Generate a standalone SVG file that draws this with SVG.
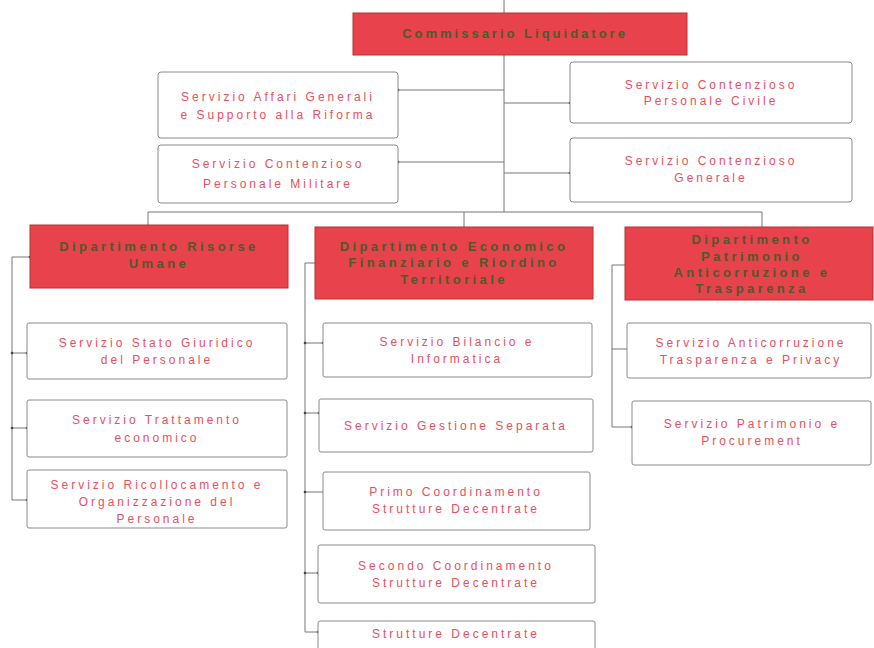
<svg xmlns="http://www.w3.org/2000/svg" width="874" height="648" viewBox="0 0 874 648">
<style>
.red{fill:#e8424c;stroke:#b8302e;stroke-width:1}
.box{fill:#ffffff;stroke:#8a8a8a;stroke-width:1}
.svc{font-family:"Liberation Sans",Arial,sans-serif;font-size:12px;fill:#e8505e;letter-spacing:3px;text-anchor:middle}
.dep{font-family:"Liberation Sans",Arial,sans-serif;font-size:13px;font-weight:bold;fill:#4d5a2c;letter-spacing:3.4px;text-anchor:middle}
.ln{fill:none;stroke:#777;stroke-width:1}
</style>
<defs>
<marker id="dot" viewBox="0 0 4 4" refX="2" refY="2" markerWidth="4" markerHeight="4" markerUnits="userSpaceOnUse"><circle cx="2" cy="2" r="1.3" fill="#444"/></marker>
</defs>
<rect width="874" height="648" fill="#ffffff"/>
<g id="connectors">
<path class="ln" d="M504 0 V212"/>
<path class="ln" d="M398 90 H504" marker-start="url(#dot)"/>
<path class="ln" d="M398 162 H504" marker-start="url(#dot)"/>
<path class="ln" d="M570 103 H504" marker-start="url(#dot)"/>
<path class="ln" d="M570 173 H504" marker-start="url(#dot)"/>
<path class="ln" d="M148 212 H762"/>
<path class="ln" d="M148 212 V225"/>
<path class="ln" d="M464 212 V227"/>
<path class="ln" d="M762 212 V227"/>
<path class="ln" d="M30 257 H12 V500 H27" marker-start="url(#dot)" marker-end="url(#dot)"/>
<path class="ln" d="M12 353 H27" marker-start="url(#dot)" marker-end="url(#dot)"/>
<path class="ln" d="M12 428 H27" marker-start="url(#dot)" marker-end="url(#dot)"/>
<path class="ln" d="M315 263 H305 V632 H318" marker-end="url(#dot)"/>
<path class="ln" d="M305 343 H323" marker-start="url(#dot)" marker-end="url(#dot)"/>
<path class="ln" d="M305 413 H319" marker-start="url(#dot)" marker-end="url(#dot)"/>
<path class="ln" d="M305 492 H323" marker-start="url(#dot)"/>
<path class="ln" d="M305 573 H318" marker-start="url(#dot)" marker-end="url(#dot)"/>
<path class="ln" d="M625 265 H612 V427 H632" marker-end="url(#dot)"/>
<path class="ln" d="M612 349 H627"/>
</g>
<g id="commissario">
<rect class="red" x="353" y="13" width="334" height="42"/>
<text class="dep" x="515" y="38" style="letter-spacing:3px">Commissario Liquidatore</text>
</g>
<g id="affari-generali">
<rect class="box" x="158" y="72" width="240" height="66" rx="3"/>
<text class="svc" x="278" y="101">Servizio Affari Generali</text>
<text class="svc" x="278" y="119">e Supporto alla Riforma</text>
</g>
<g id="contenzioso-militare">
<rect class="box" x="158" y="145" width="240" height="58" rx="3"/>
<text class="svc" x="278" y="168">Servizio Contenzioso</text>
<text class="svc" x="278" y="188">Personale Militare</text>
</g>
<g id="contenzioso-civile">
<rect class="box" x="570" y="62" width="282" height="61" rx="3"/>
<text class="svc" x="711" y="89">Servizio Contenzioso</text>
<text class="svc" x="711" y="105">Personale Civile</text>
</g>
<g id="contenzioso-generale">
<rect class="box" x="570" y="138" width="282" height="64" rx="3"/>
<text class="svc" x="711" y="165">Servizio Contenzioso</text>
<text class="svc" x="711" y="182">Generale</text>
</g>
<g id="dip-risorse-umane">
<rect class="red" x="30" y="225" width="258" height="63"/>
<text class="dep" x="159" y="251">Dipartimento Risorse</text>
<text class="dep" x="159" y="268">Umane</text>
</g>
<g id="dip-economico">
<rect class="red" x="315" y="227" width="278" height="72"/>
<text class="dep" x="454" y="251">Dipartimento Economico</text>
<text class="dep" x="454" y="267">Finanziario e Riordino</text>
<text class="dep" x="454" y="284">Territoriale</text>
</g>
<g id="dip-patrimonio">
<rect class="red" x="625" y="227" width="248" height="73"/>
<text class="dep" x="752" y="244">Dipartimento</text>
<text class="dep" x="752" y="261">Patrimonio</text>
<text class="dep" x="752" y="277">Anticorruzione e</text>
<text class="dep" x="752" y="293">Trasparenza</text>
</g>
<g id="stato-giuridico">
<rect class="box" x="27" y="323" width="260" height="56" rx="2"/>
<text class="svc" x="157" y="347">Servizio Stato Giuridico</text>
<text class="svc" x="157" y="364">del Personale</text>
</g>
<g id="trattamento-economico">
<rect class="box" x="27" y="400" width="260" height="57" rx="2"/>
<text class="svc" x="157" y="424">Servizio Trattamento</text>
<text class="svc" x="157" y="442">economico</text>
</g>
<g id="ricollocamento">
<rect class="box" x="27" y="470" width="260" height="58" rx="2"/>
<text class="svc" x="157" y="489">Servizio Ricollocamento e</text>
<text class="svc" x="157" y="506">Organizzazione del</text>
<text class="svc" x="157" y="523">Personale</text>
</g>
<g id="bilancio-informatica">
<rect class="box" x="323" y="323" width="269" height="54" rx="2"/>
<text class="svc" x="457" y="346">Servizio Bilancio e</text>
<text class="svc" x="457" y="363">Informatica</text>
</g>
<g id="gestione-separata">
<rect class="box" x="319" y="399" width="274" height="53" rx="2"/>
<text class="svc" x="456" y="430">Servizio Gestione Separata</text>
</g>
<g id="primo-coordinamento">
<rect class="box" x="323" y="472" width="267" height="58" rx="2"/>
<text class="svc" x="456" y="496">Primo Coordinamento</text>
<text class="svc" x="456" y="513">Strutture Decentrate</text>
</g>
<g id="secondo-coordinamento">
<rect class="box" x="318" y="545" width="277" height="58" rx="2"/>
<text class="svc" x="456" y="570">Secondo Coordinamento</text>
<text class="svc" x="456" y="587">Strutture Decentrate</text>
</g>
<g id="strutture-decentrate">
<rect class="box" x="318" y="621" width="277" height="40" rx="2"/>
<text class="svc" x="456" y="638">Strutture Decentrate</text>
</g>
<g id="anticorruzione">
<rect class="box" x="627" y="323" width="244" height="55" rx="2"/>
<text class="svc" x="751" y="347">Servizio Anticorruzione</text>
<text class="svc" x="751" y="364">Trasparenza e Privacy</text>
</g>
<g id="patrimonio-procurement">
<rect class="box" x="632" y="401" width="239" height="64" rx="2"/>
<text class="svc" x="752" y="428">Servizio Patrimonio e</text>
<text class="svc" x="752" y="445">Procurement</text>
</g>
</svg>
